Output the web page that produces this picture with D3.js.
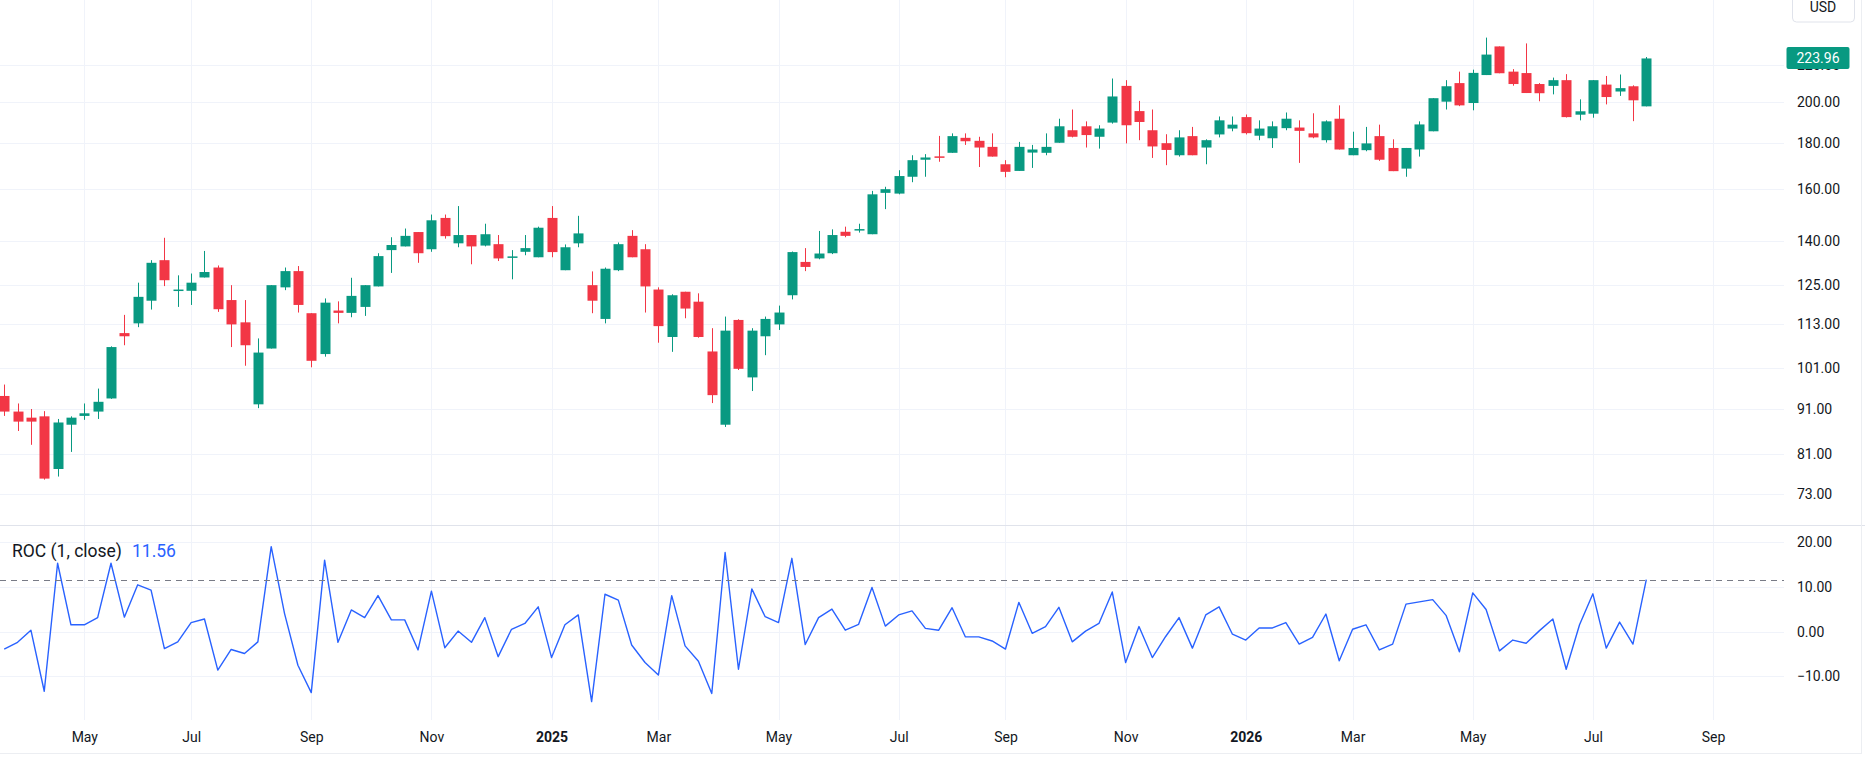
<!DOCTYPE html>
<html>
<head>
<meta charset="utf-8">
<script src="https://cdn.jsdelivr.net/npm/d3@7"></script>
<style>
  body { margin: 0; background: #ffffff; }
  svg { display: block; font-family: Roboto, "Liberation Sans", sans-serif; }
</style>
</head>
<body>
<div id="canvas"></div>
<script>
"use strict"

/* weekly bars, first one is the week of 25 Mar 2024 */
let firstWeek = new Date(Date.UTC(2024, 2, 25));
let lastWeek = new Date(Date.UTC(2026, 7, 3));

let opens = [94.0, 90.3, 88.9, 89.2, 77.9, 87.3, 89.3, 90.3, 93.4, 110.5,
  113.3, 120.1, 133.3, 123.4, 123.2, 127.5, 130.8, 120.3, 113.6, 92.0,
  106.2, 124.3, 129.6, 116.3, 104.7, 117.1, 116.4, 118.2, 124.6, 136.8,
  138.1, 143.3, 137.1, 148.6, 139.2, 142.2, 138.4, 138.9, 134.3, 136.2,
  134.3, 148.6, 129.9, 139.2, 125.0, 114.6, 129.9, 141.9, 137.1, 123.6,
  109.4, 122.9, 119.8, 105.4, 87.3, 114.3, 98.6, 109.6, 113.0, 121.8,
  132.7, 133.9, 135.7, 143.4, 144.0, 142.5, 158.5, 158.2, 165.2, 172.6,
  174.1, 175.7, 182.6, 181.2, 178.4, 170.6, 167.7, 175.8, 175.7, 180.3,
  186.2, 188.1, 183.1, 189.9, 208.7, 195.6, 186.2, 180.1, 174.6, 183.4,
  178.1, 184.2, 187.0, 192.6, 183.6, 182.4, 187.2, 187.5, 184.7, 181.5,
  191.8, 174.6, 176.9, 183.4, 177.9, 168.7, 177.2, 185.7, 200.4, 210.2,
  199.7, 214.6, 231.0, 216.5, 215.7, 209.7, 208.7, 211.8, 193.8, 194.3,
  209.4, 205.7, 208.5, 198.0];

let highs = [96.8, 92.2, 90.9, 90.4, 88.6, 89.2, 92.2, 95.8, 106.8, 115.8,
  125.8, 133.3, 141.2, 128.2, 128.8, 136.5, 131.5, 125.0, 120.3, 109.0,
  125.0, 130.8, 131.3, 116.3, 120.8, 119.9, 127.4, 125.0, 135.7, 141.4,
  144.6, 143.3, 149.9, 149.9, 153.2, 142.2, 146.4, 142.2, 136.8, 142.2,
  145.3, 153.2, 138.8, 149.4, 129.5, 130.8, 139.5, 144.0, 138.9, 124.3,
  122.1, 122.9, 122.4, 111.9, 115.3, 114.5, 111.9, 115.3, 118.6, 136.3,
  137.5, 143.7, 144.3, 145.3, 146.4, 159.3, 161.0, 168.0, 174.6, 175.1,
  183.5, 184.7, 184.7, 183.1, 184.7, 172.4, 180.7, 179.3, 184.7, 191.8,
  196.4, 190.5, 188.6, 212.7, 211.8, 200.8, 196.4, 184.3, 186.2, 187.8,
  181.9, 192.9, 192.9, 193.9, 191.0, 190.5, 194.9, 191.0, 194.5, 191.0,
  198.5, 185.5, 187.8, 188.9, 181.9, 177.9, 190.5, 202.2, 211.8, 216.5,
  217.6, 236.3, 231.0, 217.9, 232.8, 210.2, 213.2, 215.1, 201.6, 211.8,
  214.1, 214.9, 209.0, 224.8];

let lows = [89.3, 85.9, 82.9, 75.8, 76.4, 81.4, 88.4, 88.6, 93.3, 107.1,
  112.2, 117.4, 124.7, 118.2, 118.8, 127.5, 116.7, 106.6, 101.6, 91.1,
  106.2, 123.4, 116.5, 101.2, 104.0, 113.3, 115.1, 115.5, 124.6, 129.0,
  138.1, 132.4, 136.2, 140.9, 137.8, 131.9, 138.1, 133.0, 126.9, 135.0,
  134.3, 134.3, 129.9, 137.8, 116.3, 113.3, 129.6, 134.3, 116.5, 107.8,
  105.3, 114.8, 109.2, 92.3, 86.8, 100.5, 95.2, 104.4, 111.4, 120.5,
  129.6, 133.6, 135.4, 141.4, 143.1, 142.5, 152.0, 157.9, 162.9, 165.2,
  171.7, 175.7, 179.3, 169.4, 174.0, 165.0, 167.7, 169.0, 174.6, 180.3,
  182.8, 178.1, 177.6, 189.4, 180.0, 181.5, 173.4, 170.2, 174.0, 174.6,
  170.6, 182.8, 185.7, 184.2, 181.5, 177.9, 186.2, 171.2, 182.4, 180.4,
  177.2, 174.6, 176.4, 172.1, 167.6, 165.2, 174.0, 185.7, 196.4, 198.1,
  196.0, 214.6, 215.6, 208.8, 204.9, 200.6, 204.2, 192.4, 191.0, 192.3,
  199.0, 203.4, 190.6, 198.0];

let closes = [90.3, 88.0, 88.0, 76.0, 87.8, 88.9, 89.9, 92.6, 106.6, 109.6,
  121.3, 132.4, 126.6, 123.6, 125.8, 129.3, 117.5, 113.0, 107.1, 105.1,
  125.0, 129.6, 118.8, 102.9, 119.5, 116.4, 121.6, 125.0, 134.7, 138.6,
  141.9, 135.7, 147.7, 141.8, 142.2, 138.1, 142.5, 133.9, 134.6, 137.5,
  144.9, 136.1, 137.8, 142.8, 120.1, 130.4, 138.9, 134.3, 124.6, 112.5,
  121.8, 117.7, 109.4, 94.2, 111.2, 100.8, 111.2, 114.6, 116.5, 136.1,
  131.0, 135.6, 142.2, 141.9, 144.4, 157.9, 160.0, 165.5, 172.4, 173.6,
  173.8, 183.4, 181.0, 178.1, 174.0, 167.3, 178.4, 177.2, 178.4, 188.1,
  183.1, 183.9, 187.0, 203.1, 188.6, 190.2, 178.6, 177.0, 182.8, 174.6,
  181.5, 191.0, 188.9, 184.8, 187.0, 188.1, 191.8, 185.9, 182.8, 190.5,
  177.2, 177.9, 180.0, 172.6, 167.6, 177.9, 189.0, 202.2, 208.5, 198.5,
  215.8, 226.2, 215.6, 209.7, 204.9, 204.8, 211.8, 192.6, 195.5, 211.8,
  202.8, 207.5, 201.1, 223.96];

/* ROC (1, close) in percent */
let rocValues = [-3.9, -2.4, 0.3, -13.3, 15.2, 1.5, 1.5, 3.1, 15.2, 3.2,
  10.4, 9.2, -3.8, -2.3, 2.0, 2.8, -8.6, -4.0, -4.9, -2.3,
  18.9, 4.0, -7.5, -13.6, 15.9, -2.4, 4.8, 3.1, 8.0, 2.6,
  2.6, -4.1, 9.0, -3.6, 0.1, -2.4, 3.1, -5.6, 0.5, 1.8,
  5.5, -5.8, 1.5, 3.7, -15.6, 8.3, 7.0, -3.0, -6.9, -9.7,
  8.0, -3.2, -6.6, -13.8, 17.6, -8.4, 9.5, 3.3, 2.0, 16.3,
  -2.9, 3.1, 5.0, 0.3, 1.6, 9.8, 1.2, 3.7, 4.6, 0.7,
  0.3, 5.3, -1.2, -1.2, -2.1, -3.9, 6.5, -0.4, 1.1, 5.4,
  -2.3, 0.1, 1.8, 8.8, -6.9, 1.1, -5.8, -1.1, 3.1, -3.7,
  3.7, 5.5, -0.6, -1.9, 0.8, 0.8, 2.0, -2.8, -1.3, 3.9,
  -6.5, 0.5, 1.5, -4.1, -2.8, 6.1, 6.6, 7.1, 3.6, -4.5,
  8.6, 4.9, -4.3, -1.9, -2.6, 0.2, 2.8, -8.4, 1.5, 8.4,
  -3.7, 2.1, -2.8, 11.56];

let priceTicks = [73, 81, 91, 101, 113, 125, 140, 160, 180, 200, 220];
let rocTicks = [-10, 0, 10, 20];
let timeTickMonths = ["2024-05", "2024-07", "2024-09", "2024-11", "2025-01", "2025-03",
  "2025-05", "2025-07", "2025-09", "2025-11", "2026-01", "2026-03", "2026-05", "2026-07", "2026-09"];
let timeTickLabels = ["May", "Jul", "Sep", "Nov", "2025", "Mar",
  "May", "Jul", "Sep", "Nov", "2026", "Mar", "May", "Jul", "Sep"];

let lastPrice = 223.96;
let lastRoc = 11.56;

/* colours */
let upColor = "#089981";
let downColor = "#f23645";
let gridColor = "#f0f3fa";
let textColor = "#131722";
let rocColor = "#2962ff";

/* layout */
let width = 1865, height = 757;
let plotRight = 1784;
let mainTop = 0, mainBottom = 525;
let rocTop = 526, rocBottom = 720;
let axisX = 1797;

let drawing = d3.select("#canvas")
  .append("svg")
  .attr("width", width)
  .attr("height", height);

let weeks = d3.utcMonday.range(firstWeek, d3.utcDay.offset(lastWeek, 1));
let bars = weeks.map((d, i) => ({
  date: d, open: opens[i], high: highs[i], low: lows[i], close: closes[i], roc: rocValues[i]
}));
let timeTicks = timeTickMonths.map(m => d3.utcMonday.ceil(new Date(m + "-01T00:00:00Z")));

/* scales */
let x = d3.scaleUtc()
  .domain([firstWeek, lastWeek])
  .range([4.2, 1646.3]);

let yPrice = d3.scaleLog()
  .domain([67.45, 260.3])
  .range([mainBottom, mainTop]);

let yRoc = d3.scaleLinear()
  .domain([-19.7, 23.5])
  .range([rocBottom, rocTop]);

/* grid */
let grid = drawing.append("g").attr("id", "grid");

grid.selectAll(".vgrid")
  .data(timeTicks)
  .enter().append("line")
  .attr("x1", d => Math.round(x(d)) + 0.5)
  .attr("x2", d => Math.round(x(d)) + 0.5)
  .attr("y1", 0)
  .attr("y2", rocBottom)
  .attr("stroke", gridColor)
  .attr("stroke-width", 1);

grid.selectAll(".pgrid")
  .data(priceTicks)
  .enter().append("line")
  .attr("x1", 0)
  .attr("x2", plotRight)
  .attr("y1", d => Math.round(yPrice(d)) + 0.5)
  .attr("y2", d => Math.round(yPrice(d)) + 0.5)
  .attr("stroke", gridColor)
  .attr("stroke-width", 1);

grid.selectAll(".rgrid")
  .data(rocTicks)
  .enter().append("line")
  .attr("x1", 0)
  .attr("x2", plotRight)
  .attr("y1", d => Math.round(yRoc(d)) + 0.5)
  .attr("y2", d => Math.round(yRoc(d)) + 0.5)
  .attr("stroke", gridColor)
  .attr("stroke-width", 1);

/* pane separator and frame */
drawing.append("line")
  .attr("x1", 0).attr("x2", width)
  .attr("y1", mainBottom + 0.5).attr("y2", mainBottom + 0.5)
  .attr("stroke", "#e0e3eb");

drawing.append("line")
  .attr("x1", 0).attr("x2", width - 3)
  .attr("y1", height - 3.5).attr("y2", height - 3.5)
  .attr("stroke", "#eceef2");

drawing.append("line")
  .attr("x1", width - 3.5).attr("x2", width - 3.5)
  .attr("y1", 0).attr("y2", height - 3)
  .attr("stroke", "#eceef2");

/* candles */
let candles = drawing.append("g").attr("id", "candles")
  .selectAll("g")
  .data(bars)
  .enter().append("g");

candles.append("line")
  .attr("x1", d => Math.round(x(d.date)) + 0.5)
  .attr("x2", d => Math.round(x(d.date)) + 0.5)
  .attr("y1", d => yPrice(d.high))
  .attr("y2", d => yPrice(d.low))
  .attr("stroke", d => d.close >= d.open ? upColor : downColor)
  .attr("stroke-width", 1);

candles.append("rect")
  .attr("x", d => Math.round(x(d.date)) - 4.5)
  .attr("width", 10)
  .attr("y", d => yPrice(Math.max(d.open, d.close)))
  .attr("height", d => Math.max(1.5, Math.abs(yPrice(d.open) - yPrice(d.close))))
  .attr("fill", d => d.close >= d.open ? upColor : downColor);

/* ROC line */
let rocLine = d3.line()
  .x(d => x(d.date))
  .y(d => yRoc(d.roc));

drawing.append("path")
  .datum(bars)
  .attr("d", rocLine)
  .attr("fill", "none")
  .attr("stroke", rocColor)
  .attr("stroke-width", 1.4)
  .attr("stroke-linejoin", "round");

/* last value line of ROC */
drawing.append("line")
  .attr("x1", 0)
  .attr("x2", plotRight)
  .attr("y1", Math.round(yRoc(lastRoc)) + 0.5)
  .attr("y2", Math.round(yRoc(lastRoc)) + 0.5)
  .attr("stroke", "#787b86")
  .attr("stroke-width", 1)
  .attr("stroke-dasharray", "6,5");

/* ROC legend */
let legend = drawing.append("text")
  .attr("x", 12)
  .attr("y", 556.5)
  .attr("font-size", 17.5)
  .attr("fill", textColor);
legend.append("tspan").text("ROC (1, close)");
legend.append("tspan").attr("dx", 10).attr("fill", rocColor).text(lastRoc.toFixed(2));

/* price scale */
let priceAxis = drawing.append("g")
  .attr("transform", "translate(" + axisX + ",0)")
  .call(d3.axisRight(yPrice)
    .tickValues(priceTicks)
    .tickFormat(d3.format(".2f"))
    .tickSize(0)
    .tickPadding(0));

let rocAxis = drawing.append("g")
  .attr("transform", "translate(" + axisX + ",0)")
  .call(d3.axisRight(yRoc)
    .tickValues(rocTicks)
    .tickFormat(d => d < 0 ? "\u2212" + d3.format(".2f")(-d) : d3.format(".2f")(d))
    .tickSize(0)
    .tickPadding(0));

/* time scale */
let timeAxis = drawing.append("g")
  .attr("transform", "translate(0," + 732.5 + ")")
  .call(d3.axisBottom(x)
    .tickValues(timeTicks)
    .tickFormat((d, i) => timeTickLabels[i])
    .tickSize(0)
    .tickPadding(0));

[priceAxis, rocAxis, timeAxis].forEach(a => {
  a.select(".domain").remove();
  a.selectAll("text")
    .attr("font-family", "Roboto, sans-serif")
    .attr("font-size", 14)
    .attr("fill", textColor);
});
timeAxis.selectAll("text")
  .filter(function() { return /^\d{4}$/.test(this.textContent); })
  .attr("font-weight", "bold");

/* last price tag, drawn over the 220.00 label as on the original */
let tagY = yPrice(lastPrice);
drawing.append("rect")
  .attr("x", 1786.5)
  .attr("y", tagY - 11.5)
  .attr("width", 63)
  .attr("height", 22)
  .attr("rx", 2)
  .attr("fill", upColor);

drawing.append("text")
  .attr("x", 1818)
  .attr("y", tagY)
  .attr("dy", "0.35em")
  .attr("text-anchor", "middle")
  .attr("font-size", 14)
  .attr("fill", "#ffffff")
  .text(lastPrice.toFixed(2));

/* currency box */
drawing.append("rect")
  .attr("x", 1792.5)
  .attr("y", -6)
  .attr("width", 62)
  .attr("height", 28)
  .attr("rx", 4)
  .attr("fill", "#ffffff")
  .attr("stroke", "#e0e3eb");

drawing.append("text")
  .attr("x", 1823)
  .attr("y", 7)
  .attr("dy", "0.35em")
  .attr("text-anchor", "middle")
  .attr("font-size", 14)
  .attr("fill", textColor)
  .text("USD");
</script>
</body>
</html>
